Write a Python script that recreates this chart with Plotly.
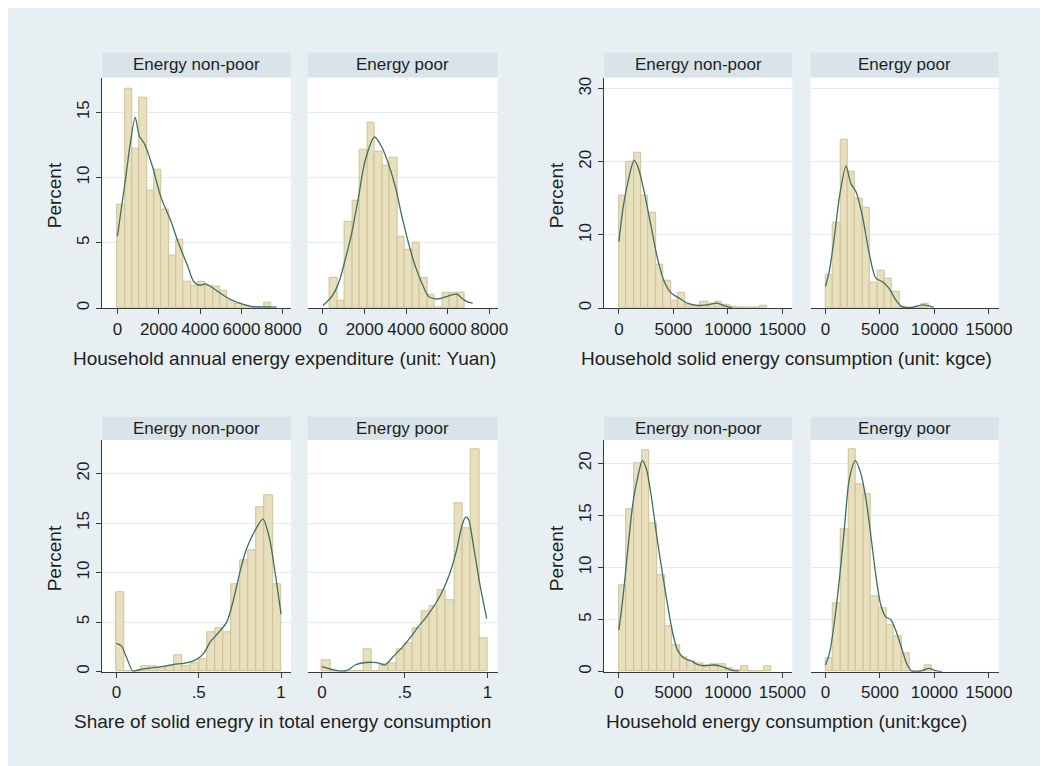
import plotly.graph_objects as go

# ---------------- data ----------------
# Household annual energy expenditure (Yuan)
exp_np_start, exp_np_width = 0, 355
exp_np_pct = [7.9, 16.8, 12.2, 16.1, 9.0, 10.6, 7.5, 4.0, 5.2, 2.0, 1.7, 2.0, 1.7, 1.6, 1.3, 0.6, 0.3, 0.15, 0.1, 0.0, 0.45]
exp_np_kde_x = [0, 200, 400, 600, 860, 1050, 1300, 1700, 2100, 2600, 2900, 3400, 3700, 4000, 4250, 4650, 5100, 5550, 6050, 6500, 7000, 7700]
exp_np_kde_y = [5.5, 7.8, 10.0, 12.4, 14.6, 13.2, 12.6, 10.8, 8.5, 6.6, 5.2, 3.2, 2.0, 1.75, 1.85, 1.5, 1.0, 0.6, 0.3, 0.12, 0.1, 0.08]

exp_p_start, exp_p_width = 320, 362
exp_p_pct = [2.3, 0.6, 6.6, 8.25, 12.1, 14.2, 12.0, 10.9, 11.5, 5.45, 4.5, 5.0, 2.3, 1.0, 0.0, 1.15, 1.15, 1.15]
exp_p_kde_x = [0, 430, 750, 1070, 1390, 1710, 2030, 2480, 2840, 3160, 3480, 3800, 4120, 4440, 4760, 5080, 5400, 5720, 6040, 6440, 6680, 6920, 7200]
exp_p_kde_y = [0.2, 0.9, 1.9, 3.7, 5.8, 8.5, 11.3, 13.1, 12.3, 11.0, 9.3, 7.0, 4.95, 3.2, 1.9, 0.9, 0.7, 0.76, 0.94, 1.07, 0.76, 0.5, 0.38]

# Household solid energy consumption (kgce)
sol_np_start, sol_np_width = 0, 680
sol_np_pct = [15.3, 20.0, 21.3, 15.3, 13.0, 6.0, 3.7, 1.05, 2.05, 0.5, 0.3, 0.9, 0.6, 0.9, 0.4, 0.15, 0, 0, 0, 0.35]
sol_np_kde_x = [0, 390, 850, 1390, 1750, 2360, 2960, 3570, 4170, 4770, 5530, 6280, 7190, 8100, 9000, 9600, 10200, 10400]
sol_np_kde_y = [9.1, 13.8, 17.4, 20.2, 19.3, 15.6, 11.1, 6.6, 3.6, 2.1, 1.36, 0.68, 0.36, 0.45, 0.68, 0.36, 0.1, 0.05]

sol_p_start, sol_p_width = 0, 680
sol_p_pct = [4.5, 11.7, 23.0, 18.6, 14.9, 13.7, 3.5, 5.1, 4.0, 2.3, 0, 0, 0, 0.6]
sol_p_kde_x = [0, 365, 820, 1280, 1880, 2340, 2800, 3400, 4010, 4620, 5230, 5840, 6440, 6900, 7360, 7960, 8880, 9480, 9940]
sol_p_kde_y = [2.95, 5.2, 9.8, 15.2, 19.4, 17.0, 15.9, 12.5, 7.5, 4.1, 3.6, 2.7, 1.14, 0.3, 0.1, 0.1, 0.45, 0.3, 0.1]

# Share of solid energy in total energy consumption
shr_np_start, shr_np_width = 0, 0.05
shr_np_pct = [8.0, 0, 0, 0.5, 0.5, 0.3, 0.5, 1.65, 0.55, 0.85, 1.25, 4.0, 4.4, 4.0, 8.8, 11.2, 12.3, 16.6, 17.8, 8.8]
shr_np_kde_x = [0, 0.03, 0.06, 0.1, 0.13, 0.19, 0.27, 0.35, 0.41, 0.49, 0.53, 0.57, 0.62, 0.67, 0.71, 0.75, 0.79, 0.84, 0.89, 0.93, 0.96, 1.0]
shr_np_kde_y = [2.85, 2.6, 1.5, 0.07, 0.17, 0.33, 0.5, 0.74, 0.84, 1.27, 1.84, 3.0, 3.95, 5.0, 7.2, 10.05, 12.4, 14.2, 15.4, 13.4, 10.4, 5.8]

shr_p_start, shr_p_width = 0, 0.05
shr_p_pct = [1.15, 0, 0, 0, 0, 2.3, 0, 0.75, 0.85, 2.3, 2.85, 4.35, 6.1, 6.6, 8.25, 7.2, 17.0, 14.5, 22.4, 3.35]
shr_p_kde_x = [0, 0.05, 0.1, 0.15, 0.2, 0.25, 0.31, 0.35, 0.38, 0.43, 0.48, 0.53, 0.58, 0.63, 0.68, 0.73, 0.775, 0.815, 0.845, 0.868, 0.885, 0.915, 0.955, 0.995]
shr_p_kde_y = [0.5, 0.27, 0.07, 0.1, 0.67, 0.9, 0.94, 0.84, 0.67, 1.5, 2.35, 3.35, 4.5, 5.5, 6.7, 8.2, 10.05, 12.4, 14.7, 15.6, 15.4, 12.7, 8.7, 5.36]

# Household energy consumption (kgce)
tot_np_start, tot_np_width = 0, 700
tot_np_pct = [8.3, 15.6, 20.0, 21.2, 14.2, 9.2, 4.4, 2.5, 1.4, 0.95, 0.8, 0.6, 0.75, 0.7, 0.35, 0.15, 0.5, 0, 0, 0.5]
tot_np_kde_x = [0, 390, 850, 1300, 1750, 2150, 2510, 2960, 3500, 4020, 4470, 4920, 5380, 5980, 6590, 7190, 7800, 8700, 9300, 9900, 10500, 11000]
tot_np_kde_y = [4.0, 7.3, 12.1, 16.3, 18.8, 20.25, 19.5, 16.9, 12.8, 9.25, 6.4, 3.8, 2.07, 1.28, 1.05, 0.7, 0.57, 0.64, 0.54, 0.32, 0.1, 0.05]

tot_p_start, tot_p_width = 0, 700
tot_p_pct = [1.3, 6.6, 13.7, 21.3, 18.0, 17.0, 7.2, 6.05, 4.45, 3.4, 1.8, 0, 0, 0.65]
tot_p_kde_x = [0, 365, 820, 1280, 1730, 2190, 2740, 3250, 3710, 4160, 4620, 5080, 5530, 5990, 6440, 7050, 7510, 7960, 8400, 8880, 9480, 10090, 10700]
tot_p_kde_y = [0.64, 1.75, 4.8, 8.9, 13.7, 18.5, 20.25, 19.0, 16.6, 13.1, 9.25, 6.4, 5.26, 5.0, 4.0, 2.07, 0.64, 0.05, 0.02, 0.1, 0.32, 0.1, 0.0]

strip_labels = ["Energy non-poor", "Energy poor"]
x_titles = ["Household annual energy expenditure (unit: Yuan)",
            "Household solid energy consumption (unit: kgce)",
            "Share of solid enegry in total energy consumption",
            "Household energy consumption (unit:kgce)"]
y_title = "Percent"
exp_ticks = [0, 2000, 4000, 6000, 8000]
kg_ticks = [0, 5000, 10000, 15000]
shr_ticks = [0, 0.5, 1]
shr_ticktext = ["0", ".5", "1"]
exp_yticks = [0, 5, 10, 15]
sol_yticks = [0, 10, 20, 30]
shr_yticks = [0, 5, 10, 15, 20]
tot_yticks = [0, 5, 10, 15, 20]

# ---------------- styling / layout ----------------
# the page adds an 8px body margin; figure is sized to fill the rest of the window
OX, OY = 8, 8
W, H = 1040, 758
FONT = "Liberation Sans"
BG = "#E8EFF2"
STRIP = "#D8E4E9"
BAR_FILL = "#E8DFBC"
BAR_EDGE = "#CFC197"
KDE = "#3F6E63"
GRID = "#E4ECEF"
AXIS = "#3a3a3a"
TXT = "#1e1e1e"


def fx(px):
    return (px - OX) / W


def fy(py):
    return 1 - (py - OY) / H


# pixel geometry (in window coordinates)
cols_x = [((103.5, 295.0), (311.7, 504.3)), ((612.3, 803.0), (821.7, 1012.3))]
rows_y = [(77.0, 308.3), (441.0, 673.3)]
strip_y = [(51.7, 76.5), (417.3, 440.8)]

blocks = [
    dict(row=0, col=0, xr=[-738, 8400], yr=[0, 17.64], xt=exp_ticks, xtt=[str(v) for v in exp_ticks], yt=exp_yticks,
         series=[(exp_np_start, exp_np_width, exp_np_pct, exp_np_kde_x, exp_np_kde_y),
                 (exp_p_start, exp_p_width, exp_p_pct, exp_p_kde_x, exp_p_kde_y)], title=x_titles[0], tx=288),
    dict(row=0, col=1, xr=[-1356, 15914], yr=[0, 31.5], xt=kg_ticks, xtt=[str(v) for v in kg_ticks], yt=sol_yticks,
         series=[(sol_np_start, sol_np_width, sol_np_pct, sol_np_kde_x, sol_np_kde_y),
                 (sol_p_start, sol_p_width, sol_p_pct, sol_p_kde_x, sol_p_kde_y)], title=x_titles[1], tx=797),
    dict(row=1, col=0, xr=[-0.086, 1.061], yr=[0, 23.35], xt=shr_ticks, xtt=shr_ticktext, yt=shr_yticks,
         series=[(shr_np_start, shr_np_width, shr_np_pct, shr_np_kde_x, shr_np_kde_y),
                 (shr_p_start, shr_p_width, shr_p_pct, shr_p_kde_x, shr_p_kde_y)], title=x_titles[2], tx=286),
    dict(row=1, col=1, xr=[-1356, 15914], yr=[0, 22.2], xt=kg_ticks, xtt=[str(v) for v in kg_ticks], yt=tot_yticks,
         series=[(tot_np_start, tot_np_width, tot_np_pct, tot_np_kde_x, tot_np_kde_y),
                 (tot_p_start, tot_p_width, tot_p_pct, tot_p_kde_x, tot_p_kde_y)], title=x_titles[3], tx=797),
]

fig = go.Figure()
layout = {}
shapes = []
annotations = []

idx = 0
for b in blocks:
    (y0, y1) = rows_y[b["row"]]
    (sy0, sy1) = strip_y[b["row"]]
    for k in range(2):
        idx += 1
        sfx = "" if idx == 1 else str(idx)
        (x0, x1) = cols_x[b["col"]][k]
        start, width, pct, kx, ky = b["series"][k]
        centers = [start + width * (i + 0.5) for i in range(len(pct))]
        fig.add_trace(go.Bar(x=centers, y=pct, width=[width] * len(pct),
                             marker=dict(color=BAR_FILL, line=dict(color=BAR_EDGE, width=1)),
                             xaxis="x" + sfx, yaxis="y" + sfx, hoverinfo="skip"))
        fig.add_trace(go.Scatter(x=kx, y=ky, mode="lines",
                                 line=dict(color=KDE, width=1.3, shape="spline", smoothing=0.8),
                                 xaxis="x" + sfx, yaxis="y" + sfx, hoverinfo="skip"))
        layout["xaxis" + sfx] = dict(domain=[fx(x0), fx(x1)], range=b["xr"], anchor="y" + sfx,
                                     tickvals=b["xt"], ticktext=b["xtt"], showline=True, linecolor=AXIS,
                                     linewidth=1, ticks="outside", ticklen=5, tickcolor=AXIS, tickwidth=1,
                                     showgrid=False, zeroline=False,
                                     tickfont=dict(family=FONT, size=17, color=TXT), fixedrange=True)
        ya = dict(domain=[fy(y1), fy(y0)], range=b["yr"], anchor="x" + sfx,
                  tickvals=b["yt"], showgrid=True, gridcolor=GRID, gridwidth=1, zeroline=False,
                  fixedrange=True)
        if k == 0:
            ya.update(showline=True, linecolor=AXIS, linewidth=1, ticks="outside", ticklen=5,
                      tickcolor=AXIS, tickwidth=1, tickangle=-90,
                      tickfont=dict(family=FONT, size=17, color=TXT))
        else:
            ya.update(showline=False, showticklabels=False, ticks="")
        layout["yaxis" + sfx] = ya
        # strip header
        shapes.append(dict(type="rect", xref="paper", yref="paper", x0=fx(x0), x1=fx(x1),
                           y0=fy(sy1), y1=fy(sy0), fillcolor=STRIP, line=dict(width=0),
                           layer="below"))
        annotations.append(dict(text=strip_labels[k], xref="paper", yref="paper",
                                x=fx((x0 + x1) / 2), y=fy((sy0 + sy1) / 2),
                                xanchor="center", yanchor="middle", showarrow=False,
                                font=dict(family=FONT, size=17, color=TXT)))
    # y title
    px_left = cols_x[b["col"]][0][0]
    annotations.append(dict(text=y_title, xref="paper", yref="paper", x=fx(px_left - 47.5),
                            y=fy((y0 + y1) / 2 + 2), textangle=-90, xanchor="center",
                            yanchor="middle", showarrow=False,
                            font=dict(family=FONT, size=19, color=TXT)))
    # x title
    annotations.append(dict(text=b["title"], xref="paper", yref="paper", x=fx(b["tx"]),
                            y=fy(y1 + 50.5), xanchor="center", yanchor="middle",
                            showarrow=False, font=dict(family=FONT, size=19, color=TXT)))

fig.update_layout(**layout)
fig.update_layout(width=W, height=H, autosize=False, margin=dict(l=0, r=0, t=0, b=0, pad=0),
                  paper_bgcolor=BG, plot_bgcolor="white", showlegend=False, bargap=0,
                  shapes=shapes, annotations=annotations,
                  font=dict(family=FONT, color=TXT))

fig.write_html("out.html")
